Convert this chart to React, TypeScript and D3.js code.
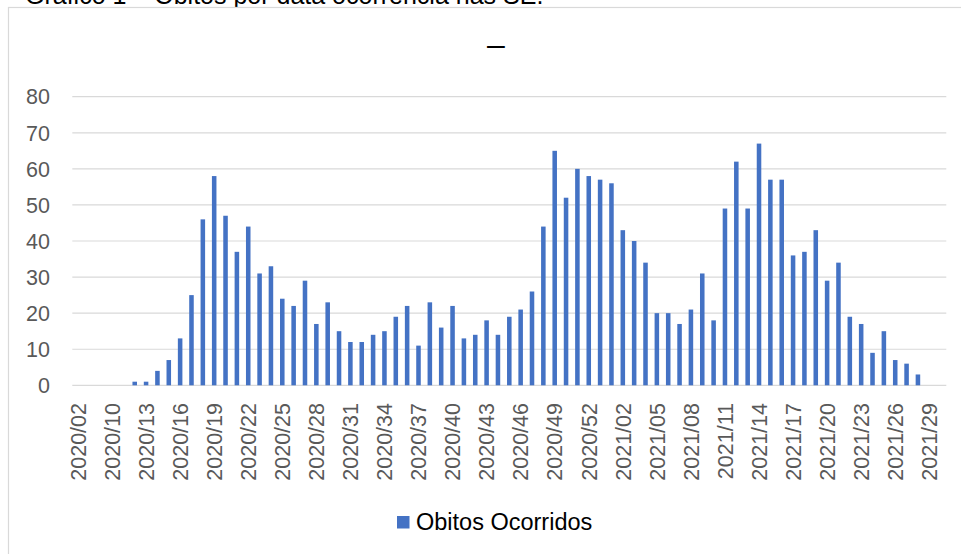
import React from "react";
import * as d3 from "d3";

// Epidemiological weeks (year/week)
const weeks: string[] = [
  "2020/02", "2020/08", "2020/09", "2020/10", "2020/11", "2020/12", "2020/13", "2020/14",
  "2020/15", "2020/16", "2020/17", "2020/18", "2020/19", "2020/20", "2020/21", "2020/22",
  "2020/23", "2020/24", "2020/25", "2020/26", "2020/27", "2020/28", "2020/29", "2020/30",
  "2020/31", "2020/32", "2020/33", "2020/34", "2020/35", "2020/36", "2020/37", "2020/38",
  "2020/39", "2020/40", "2020/41", "2020/42", "2020/43", "2020/44", "2020/45", "2020/46",
  "2020/47", "2020/48", "2020/49", "2020/50", "2020/51", "2020/52", "2020/53", "2021/01",
  "2021/02", "2021/03", "2021/04", "2021/05", "2021/06", "2021/07", "2021/08", "2021/09",
  "2021/10", "2021/11", "2021/12", "2021/13", "2021/14", "2021/15", "2021/16", "2021/17",
  "2021/18", "2021/19", "2021/20", "2021/21", "2021/22", "2021/23", "2021/24", "2021/25",
  "2021/26", "2021/27", "2021/28", "2021/29", "2021/30",
];

// Deaths by week of occurrence
const obitos: number[] = [
  0, 0, 0, 0, 0, 1, 1, 4,
  7, 13, 25, 46, 58, 47, 37, 44,
  31, 33, 24, 22, 29, 17, 23, 15,
  12, 12, 14, 15, 19, 22, 11, 23,
  16, 22, 13, 14, 18, 14, 19, 21,
  26, 44, 65, 52, 60, 58, 57, 56,
  43, 40, 34, 20, 20, 17, 21, 31,
  18, 49, 62, 49, 67, 57, 57, 36,
  37, 43, 29, 34, 19, 17, 9, 15,
  7, 6, 3, 0, 0,
];

const yTicks: number[] = [0, 10, 20, 30, 40, 50, 60, 70, 80];

const seriesName = "Obitos Ocorridos";
const pageTitle = "Gráfico 1 – Óbitos por data ocorrência nas SE.";
const chartTitle = "–";

const W = 961;
const H = 554;
const plot = { left: 72.3, right: 946.3, top: 96.7, bottom: 385.3 };
const BAR = "#4472C4";
const GRID = "#D9D9D9";
const AXIS_TEXT = "#595959";
const FONT = "'Liberation Sans', Arial, sans-serif";

export default function App() {
  const x = d3
    .scaleBand<string>()
    .domain(weeks)
    .range([plot.left, plot.right])
    .paddingInner(0.6)
    .paddingOuter(0.3);

  const y = d3.scaleLinear().domain([0, 80]).range([plot.bottom, plot.top]);

  return (
    <svg
      width={W}
      height={H}
      viewBox={`0 0 ${W} ${H}`}
      style={{ position: "absolute", left: 0, top: 0, background: "#fff" }}
    >
      <rect x={0} y={0} width={W} height={H} fill="#fff" />

      {/* document caption above the chart frame */}
      <text x={25} y={4} fontFamily={FONT} fontSize={25} fill="#000">
        {pageTitle}
      </text>

      {/* chart frame */}
      <rect x={8.5} y={7.5} width={1000} height={600} fill="#fff" stroke={GRID} strokeWidth={1.2} />

      <text x={496} y={55} textAnchor="middle" fontFamily={FONT} fontSize={32} fill="#000">
        {chartTitle}
      </text>

      {/* gridlines */}
      {yTicks.map((t) => (
        <line
          key={"g" + t}
          x1={plot.left}
          x2={plot.right}
          y1={y(t)}
          y2={y(t)}
          stroke={GRID}
          strokeWidth={1.2}
        />
      ))}

      {/* y tick labels */}
      {yTicks.map((t) => (
        <text
          key={"yl" + t}
          x={50}
          y={y(t)}
          dy="0.36em"
          textAnchor="end"
          fontFamily={FONT}
          fontSize={21.5}
          fill={AXIS_TEXT}
        >
          {t}
        </text>
      ))}

      {/* bars */}
      {weeks.map((w, i) => {
        const v = obitos[i];
        if (!v) return null;
        const x0 = x(w) as number;
        return (
          <rect
            key={"b" + w}
            x={x0}
            y={y(v)}
            width={x.bandwidth()}
            height={y(0) - y(v)}
            fill={BAR}
          />
        );
      })}

      {/* x tick labels every third week */}
      {weeks.map((w, i) => {
        if (i % 3 !== 0) return null;
        const cx = (x(w) as number) + x.bandwidth() / 2;
        return (
          <text
            key={"xl" + w}
            transform={`translate(${cx},403) rotate(-90)`}
            dy="0.36em"
            textAnchor="end"
            fontFamily={FONT}
            fontSize={21.5}
            fill={AXIS_TEXT}
          >
            {w}
          </text>
        );
      })}

      {/* legend */}
      <rect x={397} y={516} width={12.5} height={12.5} fill={BAR} />
      <text x={416} y={530} fontFamily={FONT} fontSize={23.5} fill="#000">
        {seriesName}
      </text>
    </svg>
  );
}
